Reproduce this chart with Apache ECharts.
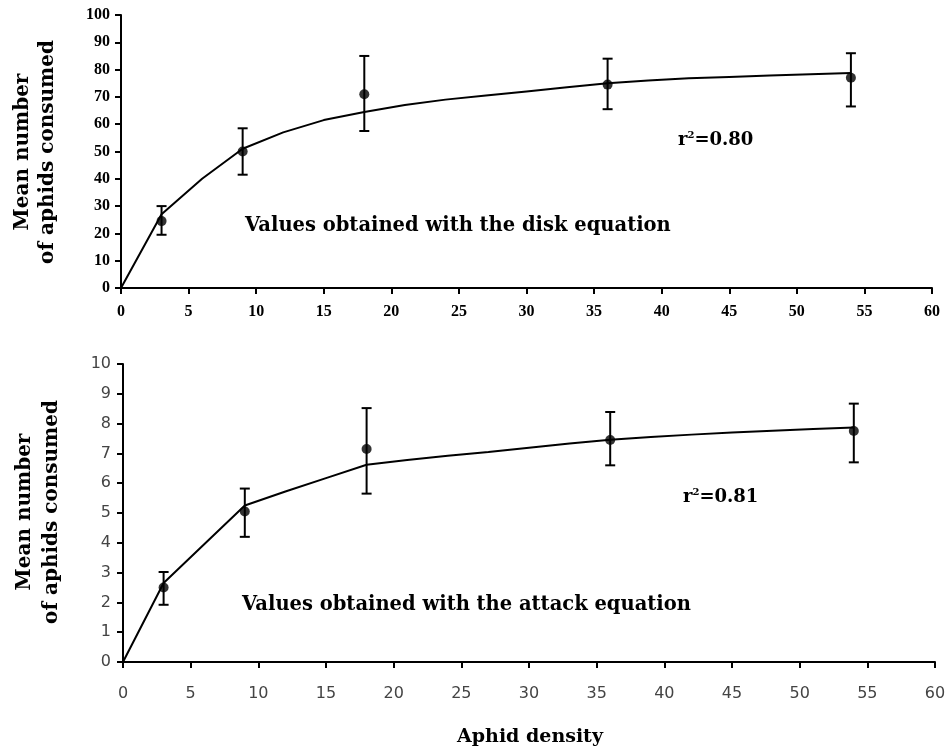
<!DOCTYPE html>
<html><head><meta charset="utf-8">
<script src="https://cdn.jsdelivr.net/npm/echarts@6/dist/echarts.min.js"></script>
<style>html,body{margin:0;padding:0;background:#fff}#c{width:951px;height:751px}</style>
</head><body><div id="c"></div>
<script>
// ---- data ----
const densities = [3, 9, 18, 36, 54];
const diskMean = [24.5, 50, 71, 74.5, 77];
const diskLow = [19.5, 41.5, 57.5, 65.5, 66.5];
const diskHigh = [30, 58.5, 85, 84, 86];
const fitX = [0, 3, 6, 9, 12, 15, 18, 21, 24, 27, 30, 33, 36, 39, 42, 45, 48, 51, 54];
const diskFit = [0, 27, 40, 51, 57, 61.5, 64.5, 67, 69, 70.5, 72, 73.5, 75, 76, 76.8, 77.3, 77.8, 78.3, 78.8];
const attackMean = [2.5, 5.05, 7.15, 7.45, 7.75];
const attackLow = [1.92, 4.2, 5.65, 6.6, 6.7];
const attackHigh = [3.02, 5.82, 8.52, 8.39, 8.67];
const attackFit = [0, 2.65, 3.95, 5.25, 5.72, 6.17, 6.62, 6.78, 6.92, 7.05, 7.19, 7.33, 7.46, 7.55, 7.63, 7.7, 7.76, 7.82, 7.87];
const topAnnot = 'Values obtained with the disk equation';
const botAnnot = 'Values obtained with the attack equation';
const topR2 = '0.80', botR2 = '0.81';
const yTitle = 'Mean number\nof aphids consumed';
const xTitle = 'Aphid density';

const SERIF = 'DejaVu Serif';
const chart = echarts.init(document.getElementById('c'), null, {renderer: 'canvas'});

function errRender(params, api) {
  const x = api.value(0), lo = api.value(1), hi = api.value(2);
  const p1 = api.coord([x, lo]), p2 = api.coord([x, hi]);
  const w = 5;
  const st = {stroke: '#000', lineWidth: 2};
  return {type: 'group', children: [
    {type: 'line', shape: {x1: p1[0], y1: p1[1], x2: p2[0], y2: p2[1]}, style: st},
    {type: 'line', shape: {x1: p1[0] - w, y1: p1[1], x2: p1[0] + w, y2: p1[1]}, style: st},
    {type: 'line', shape: {x1: p2[0] - w, y1: p2[1], x2: p2[0] + w, y2: p2[1]}, style: st}
  ]};
}

const axisLine = {show: true, lineStyle: {color: '#000', width: 2}};
const axisTick = {show: true, length: 6, lineStyle: {color: '#000', width: 2}};

function xAx(gi, lbl) {
  return {type: 'value', gridIndex: gi, min: 0, max: 60, interval: 5,
    axisLine: axisLine, axisTick: axisTick, splitLine: {show: false}, axisLabel: lbl};
}
function yAx(gi, max, interval, lbl) {
  return {type: 'value', gridIndex: gi, min: 0, max: max, interval: interval,
    axisLine: axisLine, axisTick: axisTick, splitLine: {show: false}, axisLabel: lbl};
}

const topLbl = {color: '#000', fontFamily: 'Liberation Serif', fontWeight: 'bold', fontSize: 16};
const botLbl = {color: '#444', fontFamily: 'DejaVu Sans', fontSize: 16};

const option = {
  animation: false,
  backgroundColor: '#fff',
  grid: [
    {left: 121, right: 19, top: 15, bottom: 463},
    {left: 123, right: 16, top: 364, bottom: 89}
  ],
  xAxis: [
    xAx(0, Object.assign({margin: 16}, topLbl)),
    xAx(1, Object.assign({margin: 24}, botLbl))
  ],
  yAxis: [
    yAx(0, 100, 10, Object.assign({margin: 11}, topLbl)),
    yAx(1, 10, 1, Object.assign({margin: 12}, botLbl))
  ],
  series: [
    {type: 'line', xAxisIndex: 0, yAxisIndex: 0, data: fitX.map((x, i) => [x, diskFit[i]]),
     showSymbol: false, smooth: false, lineStyle: {color: '#000', width: 2}},
    {type: 'custom', xAxisIndex: 0, yAxisIndex: 0, renderItem: errRender,
     data: densities.map((x, i) => [x, diskLow[i], diskHigh[i]]), z: 3},
    {type: 'scatter', xAxisIndex: 0, yAxisIndex: 0, data: densities.map((x, i) => [x, diskMean[i]]),
     symbol: 'circle', symbolSize: 10, itemStyle: {color: '#000'}, z: 4},
    {type: 'line', xAxisIndex: 1, yAxisIndex: 1, data: fitX.map((x, i) => [x, attackFit[i]]),
     showSymbol: false, smooth: false, lineStyle: {color: '#000', width: 2}},
    {type: 'custom', xAxisIndex: 1, yAxisIndex: 1, renderItem: errRender,
     data: densities.map((x, i) => [x, attackLow[i], attackHigh[i]]), z: 3},
    {type: 'scatter', xAxisIndex: 1, yAxisIndex: 1, data: densities.map((x, i) => [x, attackMean[i]]),
     symbol: 'circle', symbolSize: 10, itemStyle: {color: '#000'}, z: 4}
  ],
  graphic: [
    {type: 'text', x: 35, y: 152, rotation: Math.PI / 2,
     style: {text: yTitle, font: 'bold 20px "' + SERIF + '"', fill: '#000', align: 'center', verticalAlign: 'middle', lineHeight: 25}},
    {type: 'text', x: 38, y: 512, rotation: Math.PI / 2,
     style: {text: yTitle, font: 'bold 20px "' + SERIF + '"', fill: '#000', align: 'center', verticalAlign: 'middle', lineHeight: 27}},
    {type: 'text', x: 245, y: 226,
     style: {text: topAnnot, font: 'bold 19.5px "' + SERIF + '"', fill: '#000', align: 'left', verticalAlign: 'middle'}},
    {type: 'text', x: 242, y: 605,
     style: {text: botAnnot, font: 'bold 19.5px "' + SERIF + '"', fill: '#000', align: 'left', verticalAlign: 'middle'}},
    {type: 'text', x: 678, y: 140,
     style: {text: '{a|r}{s|2}{a|=' + topR2 + '}', verticalAlign: 'middle',
       rich: {a: {font: 'bold 18px "' + SERIF + '"', fill: '#000'}, s: {font: 'bold 10px "' + SERIF + '"', fill: '#000', verticalAlign: 'top', padding: [0, 0, 9, 0]}}}},
    {type: 'text', x: 683, y: 497,
     style: {text: '{a|r}{s|2}{a|=' + botR2 + '}', verticalAlign: 'middle',
       rich: {a: {font: 'bold 18px "' + SERIF + '"', fill: '#000'}, s: {font: 'bold 10px "' + SERIF + '"', fill: '#000', verticalAlign: 'top', padding: [0, 0, 9, 0]}}}},
    {type: 'text', x: 530, y: 737,
     style: {text: xTitle, font: 'bold 19px "' + SERIF + '"', fill: '#000', align: 'center', verticalAlign: 'middle'}}
  ]
};
chart.setOption(option);
</script>
</body></html>
